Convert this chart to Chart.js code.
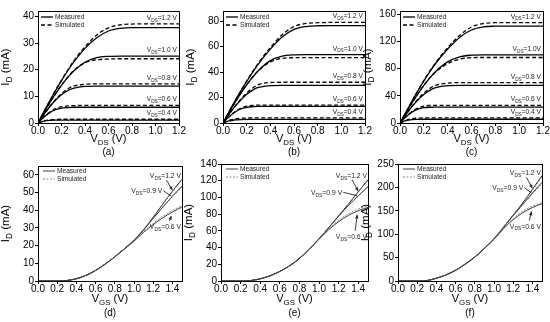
<!DOCTYPE html>
<html>
<head>
<meta charset="utf-8">
<script src="https://cdn.jsdelivr.net/npm/chart.js@4.4.0/dist/chart.umd.min.js"></script>
<style>
  body { margin: 0; background: #fff; }
  #wrap { position: relative; width: 550px; height: 322px; overflow: hidden; background: #fff; }
  canvas { position: absolute; }
</style>
</head>
<body>
<div id="wrap">
  <canvas id="pa"></canvas>
  <canvas id="pb"></canvas>
  <canvas id="pc"></canvas>
  <canvas id="pd"></canvas>
  <canvas id="pe"></canvas>
  <canvas id="pf"></canvas>
</div>
<script>
const FONT = '"Liberation Sans", Arial, sans-serif';

// x values (V) used by the curves
const vds = [0, 0.05, 0.1, 0.15, 0.2, 0.25, 0.3, 0.4, 0.5, 0.6, 0.7, 0.8, 0.9, 1.0, 1.1, 1.2];
const vgs = [0, 0.1, 0.2, 0.3, 0.4, 0.5, 0.6, 0.7, 0.8, 0.9, 1.0, 1.1, 1.2, 1.3, 1.4, 1.5];

// top row curve labels (gate levels 0.4 .. 1.2 V)
const topLabels = ['0.4 V', '0.6 V', '0.8 V', '1.0 V', '1.2 V'];
const topLabelsC = ['0.4 V', '0.6 V', '0.8 V', '1.0V', '1.2 V'];
const botLabels = ['0.6 V', '0.9 V', '1.2 V'];

// (a) I_D (mA) vs V_DS, rows = 0.4, 0.6, 0.8, 1.0, 1.2
const aMeasured = [
  [0, 0.7, 1.0, 1.1, 1.1, 1.1, 1.1, 1.1, 1.1, 1.1, 1.1, 1.1, 1.1, 1.1, 1.1, 1.1],
  [0, 2.2, 3.9, 5.0, 5.6, 5.8, 5.9, 5.9, 5.9, 5.9, 5.9, 5.9, 5.9, 5.9, 5.9, 5.9],
  [0, 3.2, 6.1, 8.6, 10.6, 12.1, 13.0, 13.7, 13.8, 13.8, 13.8, 13.8, 13.8, 13.8, 13.8, 13.8],
  [0, 3.9, 7.6, 11.0, 14.1, 16.9, 19.3, 22.8, 24.5, 25.0, 25.1, 25.1, 25.1, 25.1, 25.1, 25.1],
  [0, 4.2, 8.3, 12.2, 15.9, 19.4, 22.6, 28.0, 32.0, 34.5, 35.5, 35.8, 35.8, 35.8, 35.8, 35.8]
];
const aSimulated = [
  [0, 0.8, 1.2, 1.35, 1.4, 1.4, 1.4, 1.4, 1.4, 1.4, 1.4, 1.4, 1.4, 1.4, 1.4, 1.4],
  [0, 2.3, 4.1, 5.4, 6.1, 6.4, 6.5, 6.6, 6.6, 6.6, 6.6, 6.6, 6.6, 6.6, 6.6, 6.6],
  [0, 3.2, 6.2, 8.8, 11.0, 12.7, 13.8, 14.5, 14.7, 14.7, 14.7, 14.7, 14.7, 14.7, 14.7, 14.7],
  [0, 3.9, 7.6, 11.0, 14.2, 17.0, 19.5, 22.6, 23.7, 24.0, 24.1, 24.1, 24.1, 24.1, 24.1, 24.1],
  [0, 4.2, 8.3, 12.3, 16.1, 19.6, 23.0, 28.6, 33.0, 35.7, 36.8, 37.1, 37.2, 37.2, 37.2, 37.2]
];

// (b)
const bMeasured = [
  [0, 1.7, 2.4, 2.7, 2.8, 2.8, 2.8, 2.8, 2.8, 2.8, 2.8, 2.8, 2.8, 2.8, 2.8, 2.8],
  [0, 4.8, 8.5, 11.0, 12.3, 12.8, 13.0, 13.0, 13.0, 13.0, 13.0, 13.0, 13.0, 13.0, 13.0, 13.0],
  [0, 6.8, 12.8, 18.0, 22.5, 25.8, 27.9, 29.4, 29.6, 29.6, 29.6, 29.6, 29.6, 29.6, 29.6, 29.6],
  [0, 8.2, 16.0, 23.3, 30.0, 36.0, 41.3, 49.0, 52.6, 53.6, 53.8, 53.8, 53.8, 53.8, 53.8, 53.8],
  [0, 8.6, 17.0, 25.0, 32.6, 39.8, 46.5, 58.0, 67.5, 73.5, 75.8, 76.4, 76.5, 76.5, 76.5, 76.5]
];
const bSimulated = [
  [0, 2.0, 3.1, 3.7, 3.9, 4.0, 4.0, 4.0, 4.0, 4.0, 4.0, 4.0, 4.0, 4.0, 4.0, 4.0],
  [0, 4.9, 8.8, 11.6, 13.2, 13.8, 14.0, 14.0, 14.0, 14.0, 14.0, 14.0, 14.0, 14.0, 14.0, 14.0],
  [0, 6.8, 13.0, 18.5, 23.5, 27.5, 30.2, 31.8, 32.0, 32.0, 32.0, 32.0, 32.0, 32.0, 32.0, 32.0],
  [0, 8.2, 16.0, 23.3, 30.0, 36.0, 41.2, 48.0, 50.8, 51.3, 51.4, 51.4, 51.4, 51.4, 51.4, 51.4],
  [0, 8.6, 17.0, 25.2, 33.0, 40.3, 47.2, 59.2, 69.3, 75.8, 78.2, 78.8, 79.0, 79.0, 79.0, 79.0]
];

// (c)
const cMeasured = [
  [0, 3.5, 5.0, 5.4, 5.5, 5.5, 5.5, 5.5, 5.5, 5.5, 5.5, 5.5, 5.5, 5.5, 5.5, 5.5],
  [0, 9.0, 16.0, 20.5, 22.5, 23.2, 23.3, 23.3, 23.3, 23.3, 23.3, 23.3, 23.3, 23.3, 23.3, 23.3],
  [0, 12.5, 24.0, 34.0, 42.0, 48.0, 52.0, 55.0, 55.4, 55.4, 55.4, 55.4, 55.4, 55.4, 55.4, 55.4],
  [0, 15.0, 29.5, 43.0, 55.5, 66.5, 76.0, 90.0, 97.5, 100.0, 100.5, 100.5, 100.5, 100.5, 100.5, 100.5],
  [0, 16.0, 32.0, 47.5, 62.0, 75.5, 88.0, 109.0, 126.0, 137.0, 141.5, 142.6, 142.8, 142.8, 142.8, 142.8]
];
const cSimulated = [
  [0, 4.0, 6.3, 7.2, 7.5, 7.5, 7.5, 7.5, 7.5, 7.5, 7.5, 7.5, 7.5, 7.5, 7.5, 7.5],
  [0, 9.3, 16.8, 22.0, 24.8, 25.8, 26.0, 26.0, 26.0, 26.0, 26.0, 26.0, 26.0, 26.0, 26.0, 26.0],
  [0, 12.5, 24.5, 35.0, 44.0, 51.0, 55.5, 58.8, 59.4, 59.4, 59.4, 59.4, 59.4, 59.4, 59.4, 59.4],
  [0, 15.0, 29.5, 43.0, 55.5, 66.5, 75.5, 87.5, 94.0, 96.2, 96.5, 96.5, 96.5, 96.5, 96.5, 96.5],
  [0, 16.0, 32.0, 47.6, 62.5, 76.3, 89.0, 111.0, 129.0, 141.5, 146.5, 147.8, 148.0, 148.0, 148.0, 148.0]
];

// (d) I_D (mA) vs V_GS, rows = V_DS 0.6, 0.9, 1.2
const dMeasured = [
  [0, 0, 0, 0.3, 1.3, 3.2, 6.0, 9.6, 13.6, 18.0, 22.5, 27.5, 31.9, 35.7, 39.0, 41.8],
  [0, 0, 0, 0.3, 1.3, 3.2, 6.0, 9.6, 13.7, 18.2, 23.0, 28.9, 35.4, 41.8, 47.9, 53.6],
  [0, 0, 0, 0.3, 1.3, 3.2, 6.0, 9.6, 13.7, 18.2, 23.0, 29.0, 36.0, 43.5, 50.8, 57.5]
];
const dSimulated = [
  [0, 0, 0, 0.2, 1.2, 3.1, 5.9, 9.5, 13.7, 18.2, 22.8, 28.0, 32.6, 36.6, 39.9, 42.6],
  [0, 0, 0, 0.2, 1.2, 3.1, 5.9, 9.5, 13.7, 18.3, 23.2, 29.0, 35.4, 41.6, 47.6, 53.2],
  [0, 0, 0, 0.2, 1.2, 3.1, 5.9, 9.5, 13.7, 18.3, 23.2, 29.2, 36.2, 43.4, 50.5, 57.2]
];

// (e)
const eMeasured = [
  [0, 0, 0, 0.5, 2.6, 6.3, 11.5, 18.2, 27.0, 38.0, 50.0, 61.5, 71.0, 78.5, 84.0, 88.0],
  [0, 0, 0, 0.5, 2.6, 6.3, 11.5, 18.2, 27.0, 38.0, 50.5, 64.0, 77.5, 90.5, 102.0, 113.0],
  [0, 0, 0, 0.5, 2.6, 6.3, 11.5, 18.2, 27.0, 38.0, 50.5, 64.0, 78.0, 92.0, 106.5, 121.0]
];
const eSimulated = [
  [0, 0, 0, 0.4, 2.5, 6.2, 11.4, 18.3, 27.3, 38.2, 50.5, 62.5, 72.5, 80.5, 86.0, 89.5],
  [0, 0, 0, 0.4, 2.5, 6.2, 11.4, 18.3, 27.3, 38.2, 50.4, 63.8, 77.2, 90.0, 101.5, 112.5],
  [0, 0, 0, 0.4, 2.5, 6.2, 11.4, 18.3, 27.3, 38.2, 50.4, 63.8, 78.0, 92.5, 107.0, 121.5]
];

// (f)
const fMeasured = [
  [0, 0, 0, 1, 6, 13, 23, 36, 51, 69.5, 89, 112, 131, 146, 157, 165],
  [0, 0, 0, 1, 6, 13, 23, 36, 51, 69.5, 90, 115, 140, 164, 188, 211],
  [0, 0, 0, 1, 6, 13, 23, 36, 51, 69.5, 90, 115, 141, 167, 196, 225]
];
const fSimulated = [
  [0, 0, 0, 0.8, 5.8, 13, 23.2, 36.5, 52, 70.5, 90.5, 113.5, 133.5, 149, 160, 167],
  [0, 0, 0, 0.8, 5.8, 13, 23.2, 36.5, 52, 70.5, 91, 115.5, 139.5, 163, 186, 208],
  [0, 0, 0, 0.8, 5.8, 13, 23.2, 36.5, 52, 70.5, 91, 115.5, 141, 166.5, 194, 222]
];

function pts(xs, ys) {
  return xs.map((x, i) => ({ x: x, y: ys[i] }));
}

// text with a subscript part: parts = [[text, isSub], ...]
function drawSub(ctx, parts, x, y, align, size) {
  let w = 0;
  parts.forEach(p => {
    ctx.font = (p[1] ? size * 0.72 : size) + 'px ' + FONT;
    w += ctx.measureText(p[0]).width;
  });
  let cx = align === 'right' ? x - w : (align === 'center' ? x - w / 2 : x);
  ctx.textAlign = 'left';
  ctx.textBaseline = 'alphabetic';
  parts.forEach(p => {
    ctx.font = (p[1] ? size * 0.72 : size) + 'px ' + FONT;
    ctx.fillText(p[0], cx, p[1] ? y + size * 0.28 : y);
    cx += ctx.measureText(p[0]).width;
  });
}

function arrow(ctx, x1, y1, x2, y2, head) {
  ctx.beginPath();
  ctx.moveTo(x1, y1);
  ctx.lineTo(x2, y2);
  ctx.stroke();
  if (!head) return;
  const a = Math.atan2(y2 - y1, x2 - x1);
  ctx.beginPath();
  ctx.moveTo(x2, y2);
  ctx.lineTo(x2 - 4 * Math.cos(a - 0.45), y2 - 4 * Math.sin(a - 0.45));
  ctx.lineTo(x2 - 4 * Math.cos(a + 0.45), y2 - 4 * Math.sin(a + 0.45));
  ctx.closePath();
  ctx.fill();
}

// frame, titles, legend and curve labels
function deco(cfg) {
  return {
    id: 'deco',
    afterDraw(chart) {
      const ctx = chart.ctx;
      const ca = chart.chartArea;
      const xs = chart.scales.x, ys = chart.scales.y;
      ctx.save();
      ctx.strokeStyle = '#000';
      ctx.lineWidth = 1;
      ctx.strokeRect(Math.round(ca.left) + 0.5, Math.round(ca.top) + 0.5,
        Math.round(ca.right - ca.left), Math.round(ca.bottom - ca.top));
      ctx.fillStyle = '#000';

      // axis titles
      const midX = (ca.left + ca.right) / 2;
      drawSub(ctx, [['V', 0], [cfg.xSub, 1], [' (V)', 0]], midX, ca.bottom + cfg.xTitleDy, 'center', 11);
      drawSub(ctx, [['(' + cfg.tag + ')', 0]], midX, ca.bottom + cfg.tagDy, 'center', 10);
      ctx.save();
      ctx.translate(ca.left - 29, (ca.top + ca.bottom) / 2);
      ctx.rotate(-Math.PI / 2);
      drawSub(ctx, [['I', 0], ['D', 1], [' (mA)', 0]], 0, 0, 'center', 11.5);
      ctx.restore();

      // legend
      const lx = ca.left + cfg.legX, ly = ca.top + cfg.legY;
      ctx.lineWidth = cfg.lineW;
      ctx.strokeStyle = cfg.measColor;
      ctx.setLineDash([]);
      arrow(ctx, lx, ly, lx + 12, ly, false);
      ctx.strokeStyle = cfg.simColor;
      ctx.setLineDash(cfg.simDash);
      arrow(ctx, lx, ly + 8, lx + 12, ly + 8, false);
      ctx.setLineDash([]);
      ctx.fillStyle = '#222';
      drawSub(ctx, [['Measured', 0]], lx + 14, ly + 2.3, 'left', 6.6);
      drawSub(ctx, [['Simulated', 0]], lx + 14, ly + 10.3, 'left', 6.6);

      // curve labels
      ctx.strokeStyle = '#222';
      ctx.lineWidth = 0.9;
      cfg.annotate(ctx, ca, xs, ys);
      ctx.restore();
    }
  };
}

function panel(id, box, cfg) {
  const c = document.getElementById(id);
  const mL = 38, mT = 6, mR = 9, mB = 40;
  c.width = box.R - box.L + mL + mR;
  c.height = box.B - box.T + mT + mB;
  c.style.left = (box.L - mL) + 'px';
  c.style.top = (box.T - mT) + 'px';
  const tickFont = { family: FONT, size: 10 };
  new Chart(c, {
    type: 'line',
    data: { datasets: cfg.datasets },
    options: {
      responsive: false,
      animation: false,
      layout: { padding: { left: 0, top: mT, right: mR, bottom: 0 } },
      plugins: { legend: { display: false }, tooltip: { enabled: false } },
      elements: { point: { radius: 0 } },
      scales: {
        x: {
          type: 'linear', min: 0, max: cfg.xMax,
          afterFit(a) { a.height = mB; },
          ticks: { stepSize: 0.2, includeBounds: false, autoSkip: false, maxRotation: 0, padding: -1,
                   color: '#000', font: tickFont, callback: v => v.toFixed(1) },
          grid: { drawOnChartArea: false, tickLength: 3, color: '#000' },
          border: { color: '#000', width: 1 }
        },
        y: {
          type: 'linear', min: 0, max: cfg.yMax,
          afterFit(a) { a.width = mL; },
          ticks: { stepSize: cfg.yStep, includeBounds: false, padding: 1, color: '#000', font: tickFont },
          grid: { drawOnChartArea: false, tickLength: 3, color: '#000' },
          border: { color: '#000', width: 1 }
        }
      }
    },
    plugins: [deco(cfg)]
  });
}

// ----- top row: output curves -----
function topSets(meas, sim) {
  const out = [];
  meas.forEach((row, i) => {
    out.push({ data: pts(vds, row), borderColor: '#000', borderWidth: 1.3, cubicInterpolationMode: 'monotone' });
    out.push({ data: pts(vds, sim[i]), borderColor: '#000', borderWidth: 1.3, borderDash: [4, 2.5], cubicInterpolationMode: 'monotone' });
  });
  return out;
}

function topAnnot(meas, sim, labels) {
  return function (ctx, ca, xs, ys) {
    ctx.fillStyle = '#222';
    meas.forEach((row, i) => {
      const top = Math.max(row[row.length - 1], sim[i][sim[i].length - 1]);
      const py = ys.getPixelForValue(top);
      drawSub(ctx, [['V', 0], ['DS', 1], ['=' + labels[i], 0]], ca.right - 2, py - 4, 'right', 6.6);
    });
  };
}

function topCfg(tag, meas, sim, labels, yMax, yStep) {
  return {
    tag: tag, xSub: 'DS', xMax: 1.2, yMax: yMax, yStep: yStep,
    xTitleDy: 19, tagDy: 32,
    legX: 3, legY: 6, lineW: 1.3, measColor: '#000', simColor: '#000', simDash: [4, 2.5],
    datasets: topSets(meas, sim),
    annotate: topAnnot(meas, sim, labels)
  };
}

// ----- bottom row: transfer curves -----
function botSets(meas, sim) {
  const out = [];
  meas.forEach((row, i) => {
    out.push({ data: pts(vgs, row), borderColor: '#3a3a3a', borderWidth: 1, cubicInterpolationMode: 'monotone' });
    out.push({ data: pts(vgs, sim[i]), borderColor: '#8a8a8a', borderWidth: 1, borderDash: [2, 1.5], cubicInterpolationMode: 'monotone' });
  });
  return out;
}

function botAnnot(meas, off) {
  return function (ctx, ca, xs, ys) {
    const px = xs.getPixelForValue(1.4);
    const y06 = ys.getPixelForValue(meas[0][14]);
    const y09 = ys.getPixelForValue(meas[1][14]);
    const y12 = ys.getPixelForValue(meas[2][14]);
    ctx.fillStyle = '#222';
    // 1.2 V
    drawSub(ctx, [['V', 0], ['DS', 1], ['=' + botLabels[2], 0]], ca.right - 1, y12 + off.b12, 'right', 6.8);
    arrow(ctx, px - 6, y12 + off.b12 + 2, px, y12 - 1, true);
    // 0.9 V
    drawSub(ctx, [['V', 0], ['DS', 1], ['=' + botLabels[1], 0]], px + off.r09, y09 + off.b09, 'right', 6.8);
    arrow(ctx, px + off.r09 + 1, y09 + off.b09 - 2.5, px - 1, y09, false);
    // 0.6 V
    drawSub(ctx, [['V', 0], ['DS', 1], ['=' + botLabels[0], 0]], ca.right - 1, y06 + off.b06, 'right', 6.8);
    arrow(ctx, px - 3, y06 + off.b06 - 8, px - 1, y06 + 4, true);
  };
}

function botCfg(tag, meas, sim, yMax, yStep, off) {
  return {
    tag: tag, xSub: 'GS', xMax: 1.5, yMax: yMax, yStep: yStep,
    xTitleDy: 21, tagDy: 35,
    legX: 5, legY: 5, lineW: 1, measColor: '#3a3a3a', simColor: '#8a8a8a', simDash: [2, 1.5],
    datasets: botSets(meas, sim),
    annotate: botAnnot(meas, off)
  };
}

panel('pa', { L: 38, T: 10, R: 179, B: 123 }, topCfg('a', aMeasured, aSimulated, topLabels, 42, 5));
panel('pb', { L: 223, T: 10, R: 365, B: 123 }, topCfg('b', bMeasured, bSimulated, topLabels, 88, 20));
panel('pc', { L: 400, T: 10, R: 543, B: 123 }, topCfg('c', cMeasured, cSimulated, topLabelsC, 165, 20));
panel('pd', { L: 38, T: 165, R: 182, B: 281 }, botCfg('d', dMeasured, dSimulated, 65, 10, { b12: -13, b09: -3, r09: -10, b06: 17 }));
panel('pe', { L: 221, T: 163, R: 368, B: 281 }, botCfg('e', eMeasured, eSimulated, 140, 20, { b12: -14, b09: -1, r09: -16, b06: 28 }));
panel('pf', { L: 398, T: 163, R: 542, B: 281 }, botCfg('f', fMeasured, fSimulated, 250, 50, { b12: -14, b09: -3, r09: -9, b06: 21 }));
</script>
</body>
</html>
